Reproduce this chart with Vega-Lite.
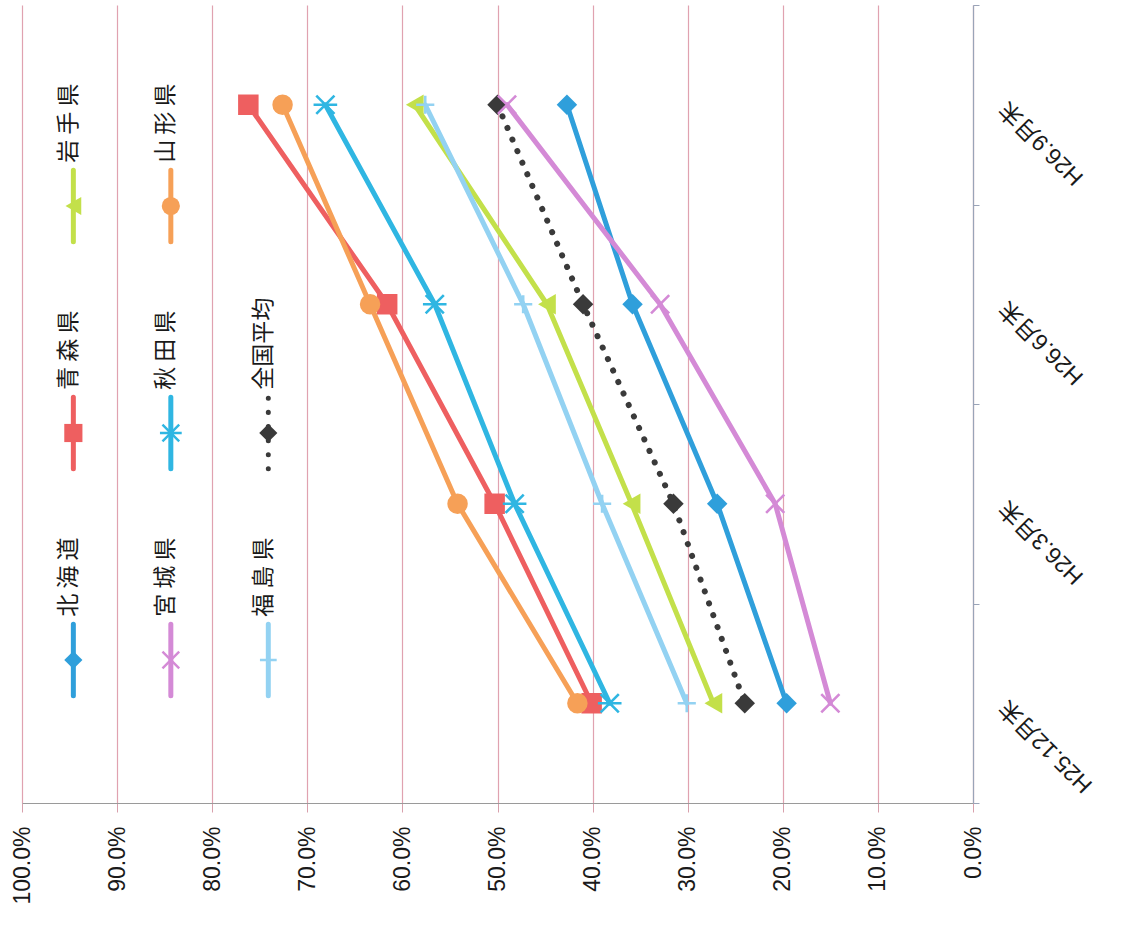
{
  "$schema": "https://vega.github.io/schema/vega-lite/v6.json",
  "width": 951,
  "height": 798,
  "autosize": {"type": "none"},
  "padding": {"left": 22, "top": 5, "right": 150, "bottom": 126},
  "background": "white",
  "config": {
    "view": {"stroke": null},
    "axis": {
      "labelFont": "Liberation Sans, Noto Sans CJK JP",
      "labelColor": "#1a1a1a",
      "labelFontSize": 23
    }
  },
  "datasets": {
    "rates": [
      {"period": "H25.12月末", "series": "北海道", "rate": 0.196},
      {"period": "H25.12月末", "series": "青森県", "rate": 0.401},
      {"period": "H25.12月末", "series": "岩手県", "rate": 0.273},
      {"period": "H25.12月末", "series": "宮城県", "rate": 0.150},
      {"period": "H25.12月末", "series": "秋田県", "rate": 0.382},
      {"period": "H25.12月末", "series": "山形県", "rate": 0.416},
      {"period": "H25.12月末", "series": "福島県", "rate": 0.301},
      {"period": "H25.12月末", "series": "全国平均", "rate": 0.240},
      {"period": "H26.3月末", "series": "北海道", "rate": 0.269},
      {"period": "H26.3月末", "series": "青森県", "rate": 0.503},
      {"period": "H26.3月末", "series": "岩手県", "rate": 0.359},
      {"period": "H26.3月末", "series": "宮城県", "rate": 0.208},
      {"period": "H26.3月末", "series": "秋田県", "rate": 0.482},
      {"period": "H26.3月末", "series": "山形県", "rate": 0.542},
      {"period": "H26.3月末", "series": "福島県", "rate": 0.390},
      {"period": "H26.3月末", "series": "全国平均", "rate": 0.315},
      {"period": "H26.6月末", "series": "北海道", "rate": 0.358},
      {"period": "H26.6月末", "series": "青森県", "rate": 0.616},
      {"period": "H26.6月末", "series": "岩手県", "rate": 0.448},
      {"period": "H26.6月末", "series": "宮城県", "rate": 0.329},
      {"period": "H26.6月末", "series": "秋田県", "rate": 0.566},
      {"period": "H26.6月末", "series": "山形県", "rate": 0.634},
      {"period": "H26.6月末", "series": "福島県", "rate": 0.473},
      {"period": "H26.6月末", "series": "全国平均", "rate": 0.410},
      {"period": "H26.9月末", "series": "北海道", "rate": 0.427},
      {"period": "H26.9月末", "series": "青森県", "rate": 0.762},
      {"period": "H26.9月末", "series": "岩手県", "rate": 0.587},
      {"period": "H26.9月末", "series": "宮城県", "rate": 0.490},
      {"period": "H26.9月末", "series": "秋田県", "rate": 0.681},
      {"period": "H26.9月末", "series": "山形県", "rate": 0.726},
      {"period": "H26.9月末", "series": "福島県", "rate": 0.576},
      {"period": "H26.9月末", "series": "全国平均", "rate": 0.500}
    ],
    "series": [
      {"series": "北海道", "label": "北 海 道"},
      {"series": "青森県", "label": "青 森 県"},
      {"series": "岩手県", "label": "岩 手 県"},
      {"series": "宮城県", "label": "宮 城 県"},
      {"series": "秋田県", "label": "秋 田 県"},
      {"series": "山形県", "label": "山 形 県"},
      {"series": "福島県", "label": "福 島 県"},
      {"series": "全国平均", "label": "全国平均"}
    ]
  },
  "resolve": {"scale": {"y": "independent"}},
  "layer": [
    {
      "data": {"name": "rates"},
      "encoding": {
        "x": {
          "field": "rate",
          "type": "quantitative",
          "title": null,
          "scale": {"domain": [0, 1], "reverse": true, "nice": false, "zero": true},
          "axis": {
            "values": [0, 0.1, 0.2, 0.3, 0.4, 0.5, 0.6, 0.7, 0.8, 0.9, 1],
            "format": ".1%",
            "labelAngle": 270,
            "labelAlign": "right",
            "labelBaseline": "middle",
            "labelPadding": 14,
            "labelFlush": false,
            "labelOverlap": false,
            "labelBound": false,
            "tickSize": 9,
            "tickColor": "#d8a0ac",
            "domainColor": "#9a9a9a",
            "domainWidth": 1.2,
            "grid": true,
            "gridColor": "#e0a2b0",
            "gridWidth": 1.2
          }
        },
        "y": {
          "field": "period",
          "type": "ordinal",
          "title": null,
          "sort": ["H26.9月末", "H26.6月末", "H26.3月末", "H25.12月末"],
          "scale": {"type": "band", "paddingInner": 0, "paddingOuter": 0},
          "axis": {
            "orient": "right",
            "labelAngle": 225,
            "labelAlign": "right",
            "labelBaseline": "middle",
            "labelPadding": 24,
            "tickSize": 6,
            "tickBand": "extent",
            "tickColor": "#9aa4b8",
            "domainColor": "#9aa4b8",
            "domainWidth": 1.2,
            "grid": false
          }
        },
        "color": {
          "field": "series",
          "type": "nominal",
          "legend": null,
          "scale": {
            "domain": ["北海道", "青森県", "岩手県", "宮城県", "秋田県", "山形県", "福島県", "全国平均"],
            "range": ["#2f9fdb", "#ee5f60", "#c3e04a", "#d48ad6", "#2fb6e2", "#f6a057", "#93d2f2", "#3a3a3a"]
          }
        }
      },
      "layer": [
        {
          "transform": [{"filter": "datum.series !== '全国平均'"}],
          "mark": {"type": "line", "strokeWidth": 5, "strokeCap": "round", "strokeJoin": "round"}
        },
        {
          "transform": [{"filter": "datum.series === '全国平均'"}],
          "mark": {"type": "line", "strokeWidth": 6, "strokeCap": "round", "strokeDash": [0.1, 12.5]}
        },
        {
          "transform": [{"filter": "indexof(['宮城県', '秋田県', '福島県'], datum.series) < 0"}],
          "mark": {"type": "point", "filled": true, "opacity": 1, "size": 420},
          "encoding": {
            "shape": {
              "field": "series",
              "type": "nominal",
              "legend": null,
              "scale": {
                "domain": ["北海道", "青森県", "岩手県", "宮城県", "秋田県", "山形県", "福島県", "全国平均"],
                "range": ["diamond", "square", "triangle-left", "M-1,-1L1,1M-1,1L1,-1", "M-1,-1L1,1M-1,1L1,-1M-1.3,0L1.3,0", "circle", "M-1,0L1,0M0,-1L0,1", "diamond"]
              }
            }
          }
        },
        {
          "transform": [{"filter": "indexof(['宮城県', '秋田県', '福島県'], datum.series) >= 0"}],
          "mark": {"type": "point", "filled": false, "opacity": 1, "size": 330, "strokeWidth": 2.6},
          "encoding": {
            "shape": {"field": "series", "type": "nominal", "legend": null}
          }
        }
      ]
    },
    {
      "data": {"name": "series"},
      "transform": [
        {"window": [{"op": "row_number", "as": "idx"}]},
        {"calculate": "floor((datum.idx - 1) / 3)", "as": "col"},
        {"calculate": "(datum.idx - 1) % 3", "as": "row"},
        {"calculate": "0.946 - 0.1025 * datum.col", "as": "lx"},
        {"calculate": "datum.lx + 0.005", "as": "tx"},
        {"calculate": "datum.row - 0.158", "as": "ly1"},
        {"calculate": "datum.row + 0.158", "as": "ly2"},
        {"calculate": "datum.row + 0.19", "as": "ty"}
      ],
      "encoding": {
        "color": {"field": "series", "type": "nominal", "legend": null}
      },
      "layer": [
        {
          "mark": {"type": "rule", "strokeWidth": 5, "strokeCap": "round"},
          "encoding": {
            "x": {"field": "lx", "type": "quantitative", "title": null},
            "y": {"field": "ly1", "type": "quantitative", "axis": null, "scale": {"domain": [-0.63, 2.8855], "nice": false, "zero": false}},
            "y2": {"field": "ly2"},
            "strokeDash": {
              "condition": {"test": "datum.series === '全国平均'", "value": [0.1, 14]},
              "value": [1, 0]
            },
            "strokeWidth": {
              "condition": {"test": "datum.series === '全国平均'", "value": 6},
              "value": 5
            }
          }
        },
        {
          "transform": [{"filter": "indexof(['宮城県', '秋田県', '福島県'], datum.series) < 0"}],
          "mark": {"type": "point", "filled": true, "opacity": 1, "size": 330},
          "encoding": {
            "x": {"field": "lx", "type": "quantitative", "title": null},
            "y": {"field": "row", "type": "quantitative", "axis": null},
            "shape": {"field": "series", "type": "nominal", "legend": null}
          }
        },
        {
          "transform": [{"filter": "indexof(['宮城県', '秋田県', '福島県'], datum.series) >= 0"}],
          "mark": {"type": "point", "filled": false, "opacity": 1, "size": 280, "strokeWidth": 2.4},
          "encoding": {
            "x": {"field": "lx", "type": "quantitative", "title": null},
            "y": {"field": "row", "type": "quantitative", "axis": null},
            "shape": {"field": "series", "type": "nominal", "legend": null}
          }
        },
        {
          "mark": {
            "type": "text",
            "angle": 270,
            "align": "left",
            "baseline": "middle",
            "font": "Noto Sans CJK JP",
            "fontSize": 23,
            "color": "#1a1a1a"
          },
          "encoding": {
            "x": {"field": "tx", "type": "quantitative", "title": null},
            "y": {"field": "ty", "type": "quantitative", "axis": null},
            "text": {"field": "label"},
            "color": {"value": "#1a1a1a"}
          }
        }
      ]
    }
  ]
}
